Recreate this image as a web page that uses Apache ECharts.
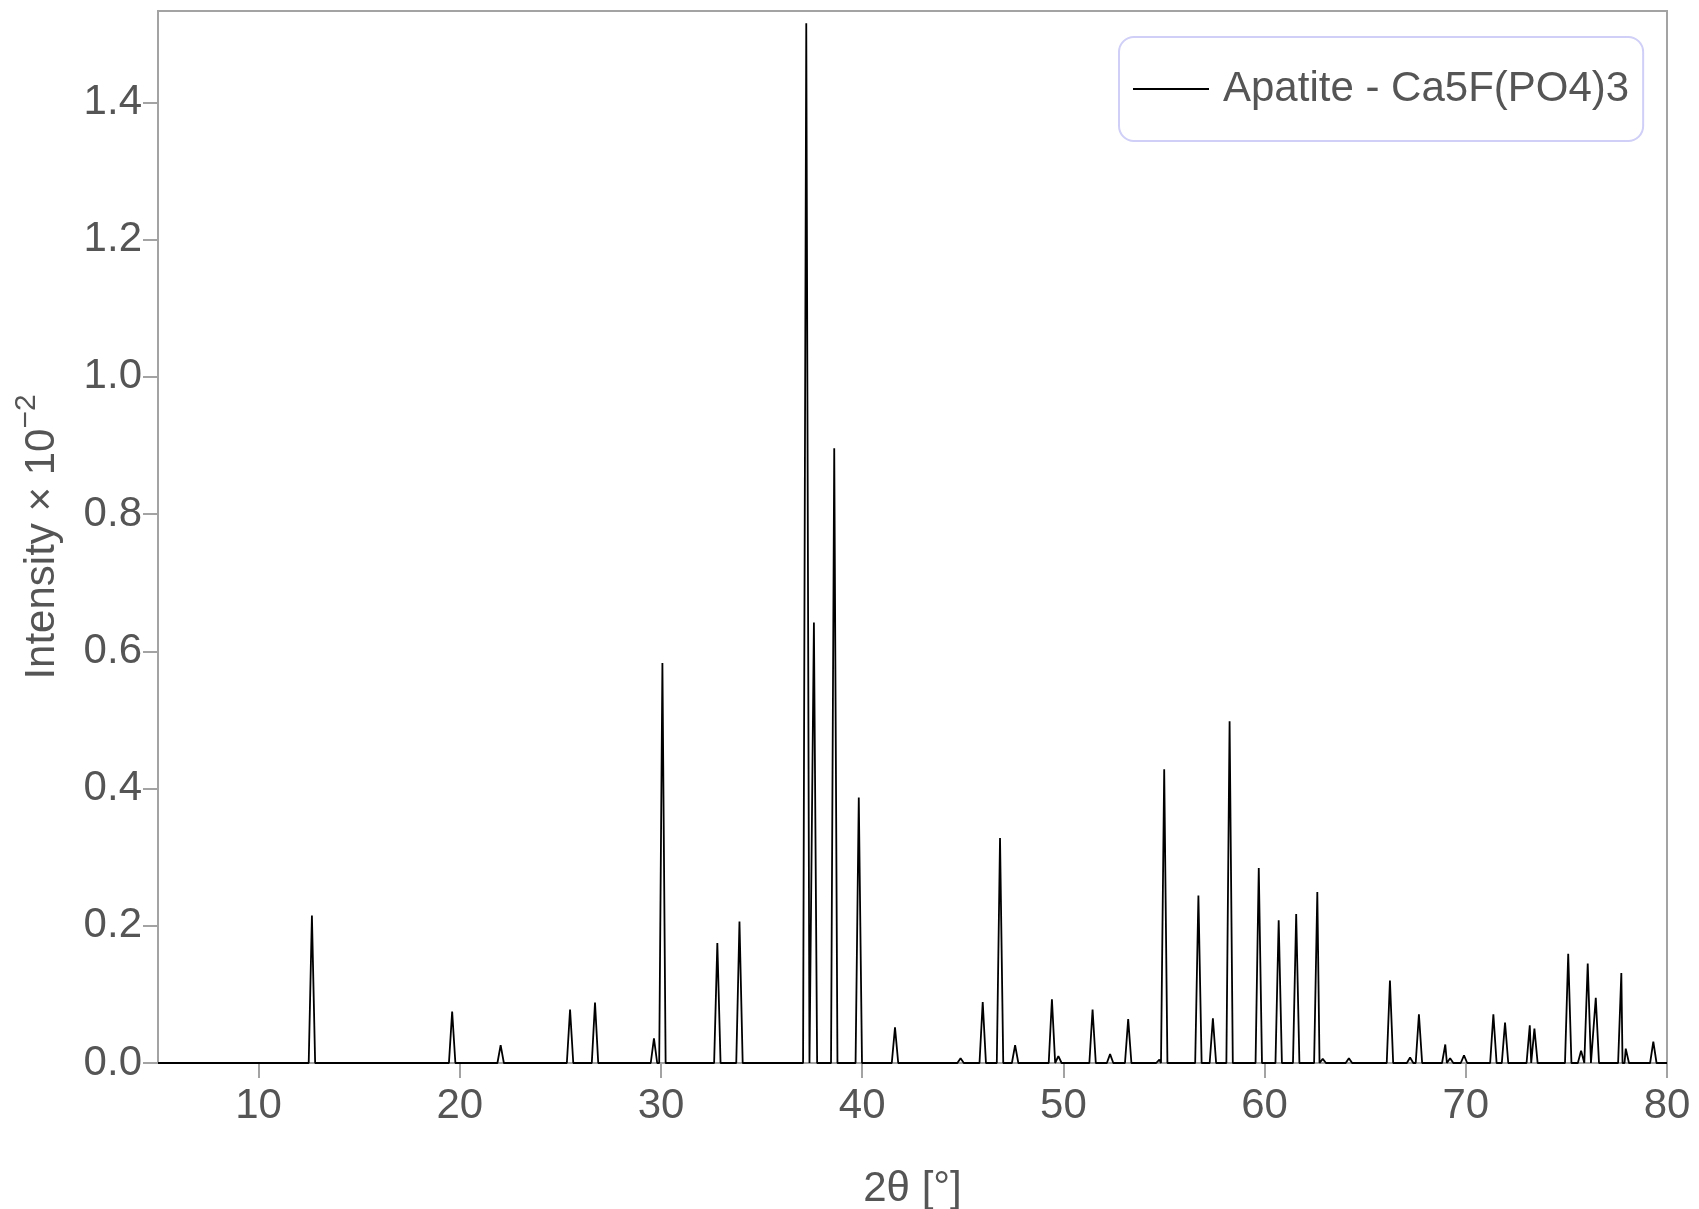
<!DOCTYPE html>
<html>
<head>
<meta charset="utf-8">
<script src="https://cdn.jsdelivr.net/npm/echarts@6/dist/echarts.min.js"></script>
<style>
html,body{margin:0;padding:0;background:#fff;}
#chart{width:1699px;height:1209px;}
</style>
</head>
<body>
<div id="chart"></div>
<script>
// ---- Data (2θ in degrees, intensity ×10^-2) ----
var seriesName = 'Apatite - Ca5F(PO4)3';
var peak2Theta = [12.65, 19.62, 22.03, 25.48, 26.72, 29.65, 30.07, 32.80, 33.90,
  37.22, 37.60, 38.61, 39.83, 41.63, 44.89, 45.99, 46.85, 47.60, 49.43, 49.75,
  51.45, 52.32, 53.22, 54.77, 55.01, 56.71, 57.43, 58.26, 59.71, 60.70, 61.57,
  62.62, 62.89, 64.19, 66.23, 67.23, 67.67, 68.98, 69.22, 69.91, 71.37, 71.95,
  73.18, 73.41, 75.09, 75.73, 76.06, 76.46, 77.73, 77.95, 79.32];
var peakIntensity = [0.215, 0.075, 0.026, 0.078, 0.088, 0.036, 0.583, 0.175, 0.206,
  1.515, 0.642, 0.896, 0.387, 0.052, 0.007, 0.089, 0.328, 0.026, 0.093, 0.010,
  0.078, 0.013, 0.064, 0.005, 0.428, 0.244, 0.065, 0.498, 0.284, 0.208, 0.217,
  0.249, 0.006, 0.007, 0.120, 0.008, 0.071, 0.027, 0.007, 0.011, 0.071, 0.059,
  0.055, 0.050, 0.159, 0.018, 0.145, 0.095, 0.131, 0.021, 0.031];
var xTicks = [10, 20, 30, 40, 50, 60, 70, 80];
var yTicks = [0.0, 0.2, 0.4, 0.6, 0.8, 1.0, 1.2, 1.4];
var xRange = [5, 80];
var yRange = [0, 1.533];

// ---- Build the line (each reflection drawn as a narrow peak on a zero baseline) ----
var halfWidth = 0.16;
var pts = [[xRange[0], 0], [xRange[1], 0]];
for (var i = 0; i < peak2Theta.length; i++) {
  pts.push([peak2Theta[i] - halfWidth, 0]);
  pts.push([peak2Theta[i], peakIntensity[i]]);
  pts.push([peak2Theta[i] + halfWidth, 0]);
}
pts.sort(function (a, b) { return a[0] - b[0]; });

var FONT = '"Liberation Sans", Arial, Helvetica, sans-serif';
var TXT = '#555555';
var AX = '#a3a3a3';

var chart = echarts.init(document.getElementById('chart'), null, {renderer: 'canvas'});
chart.setOption({
  animation: false,
  backgroundColor: '#ffffff',
  textStyle: {fontFamily: FONT},
  grid: {left: 158, right: 32, top: 11, bottom: 146, show: true,
         containLabel: false, outerBoundsMode: 'none',
         borderColor: AX, borderWidth: 2, backgroundColor: 'transparent'},
  legend: {
    data: [seriesName],
    left: 1119, top: 37,
    padding: [31, 14, 31, 13],
    borderColor: '#cfcff7', borderWidth: 2, borderRadius: 15,
    itemWidth: 76, itemHeight: 2,
    itemStyle: {opacity: 0},
    lineStyle: {color: '#000000', width: 2},
    textStyle: {fontSize: 42, color: TXT, fontFamily: FONT, padding: [0, 0, 0, 9]}
  },
  xAxis: {
    type: 'value', min: xRange[0], max: xRange[1],
    name: '2θ [°]', nameLocation: 'middle', nameGap: 105,
    nameTextStyle: {fontSize: 42, color: TXT, fontFamily: FONT},
    axisLine: {show: true, onZero: false, lineStyle: {color: AX, width: 2}},
    axisTick: {show: true, length: 15, customValues: xTicks, lineStyle: {color: AX, width: 2}},
    axisLabel: {customValues: xTicks, fontSize: 42, color: TXT, fontFamily: FONT, margin: 22},
    splitLine: {show: false}
  },
  yAxis: {
    type: 'value', min: yRange[0], max: yRange[1],
    name: '{m|Intensity × 10}{s|−2}', nameLocation: 'middle', nameGap: 86, nameRotate: 90,
    nameTextStyle: {color: TXT, fontFamily: FONT,
      rich: {m: {fontSize: 42, color: TXT, fontFamily: FONT, lineHeight: 60},
             s: {fontSize: 30, color: TXT, fontFamily: FONT, lineHeight: 30, verticalAlign: 'top'}}},
    axisLine: {show: true, onZero: false, lineStyle: {color: AX, width: 2}},
    axisTick: {show: true, length: 15, customValues: yTicks, lineStyle: {color: AX, width: 2}},
    axisLabel: {customValues: yTicks, fontSize: 42, color: TXT, fontFamily: FONT, margin: 16,
      formatter: function (v) { return Number(v).toFixed(1); }},
    splitLine: {show: false}
  },
  series: [{
    name: seriesName, type: 'line', data: pts,
    symbol: 'none', showSymbol: false, sampling: null,
    lineStyle: {color: '#000000', width: 1.8},
    itemStyle: {color: '#000000'}
  }]
});
</script>
</body>
</html>
